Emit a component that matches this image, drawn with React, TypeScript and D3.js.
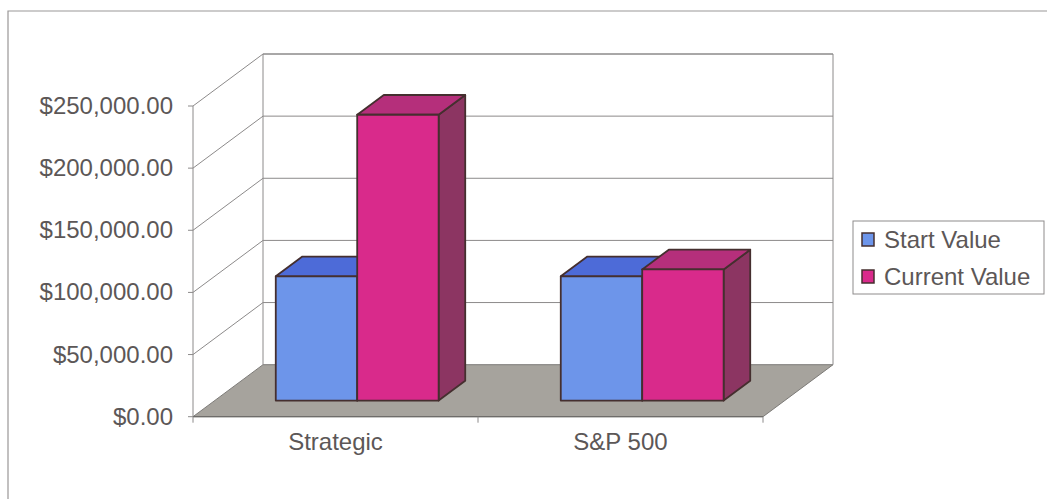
import * as d3 from "d3";
import React from "react";

// 数据
const categories = ["Strategic", "S&P 500"];
const seriesNames = ["Start Value", "Current Value"];
const startValues = [100000, 100000];
const currentValues = [230000, 105500];
const yTicks = [0, 50000, 100000, 150000, 200000, 250000];

const faceColors = [
  { front: "#6d95ea", top: "#4d6bd8", side: "#3f58b0" },
  { front: "#d92a8b", top: "#b52f7b", side: "#8c3562" },
];

export default function App() {
  const ref = React.useRef<SVGSVGElement>(null);

  React.useEffect(() => {
    if (!ref.current) return;
    const svg = d3.select(ref.current);
    svg.selectAll("*").remove();

    const W = 1047;
    const H = 499;
    const font = "'Liberation Sans', Arial, sans-serif";
    const fontSize = 24;
    const textColor = "#5c5757";
    const gridColor = "#8c8a8a";

    // 3D offsets
    const depthX = 70;
    const depthY = 52;
    const z0 = 0.31;
    const z1 = 0.69;

    const x0 = d3.scaleBand().domain(categories).range([193, 763]).padding(0);
    const x1 = d3
      .scaleBand()
      .domain(seriesNames)
      .range([0, x0.bandwidth()])
      .paddingInner(0)
      .paddingOuter(0.75);
    const y = d3.scaleLinear().domain([0, 250000]).range([416.7, 106]);

    const proj = (px: number, v: number, z: number): [number, number] => [
      px + z * depthX,
      y(v) - z * depthY,
    ];
    const poly = (pts: [number, number][]) =>
      pts.map((p) => p.join(",")).join(" ");

    // outer border (only top & left visible)
    svg
      .append("path")
      .attr("d", `M8,${H + 2} L8,11 L${W + 2},11`)
      .attr("fill", "none")
      .attr("stroke", "#9a9797")
      .attr("stroke-width", 1.2);

    const x0L = x0.range()[0];
    const x0R = x0.range()[1];
    const top = 250000;

    // floor
    svg
      .append("polygon")
      .attr(
        "points",
        poly([proj(x0L, 0, 0), proj(x0R, 0, 0), proj(x0R, 0, 1), proj(x0L, 0, 1)])
      )
      .attr("fill", "#a6a39d")
      .attr("stroke", "#7d7b78")
      .attr("stroke-width", 1);

    // walls outline
    const g = svg.append("g").attr("fill", "none").attr("stroke", gridColor).attr("stroke-width", 1);
    g.append("path").attr(
      "d",
      `M${proj(x0L, 0, 1).join(",")} L${proj(x0L, top, 1).join(",")} L${proj(x0R, top, 1).join(",")} L${proj(x0R, 0, 1).join(",")}`
    );

    // gridlines on side wall and back wall
    yTicks.forEach((v) => {
      if (v === 0) return;
      g.append("path").attr(
        "d",
        `M${proj(x0L, v, 0).join(",")} L${proj(x0L, v, 1).join(",")} L${proj(x0R, v, 1).join(",")}`
      );
    });

    // y axis line + ticks
    g.append("line")
      .attr("x1", x0L)
      .attr("x2", x0L)
      .attr("y1", y(0))
      .attr("y2", y(top));
    yTicks.forEach((v) => {
      g.append("line")
        .attr("x1", x0L - 5)
        .attr("x2", x0L)
        .attr("y1", y(v))
        .attr("y2", y(v));
    });

    // x axis line + ticks
    svg
      .append("line")
      .attr("x1", x0L)
      .attr("x2", x0R)
      .attr("y1", y(0))
      .attr("y2", y(0))
      .attr("stroke", "#6e6c6a")
      .attr("stroke-width", 1.2);
    const xTickPos = [x0L, ...categories.map((c) => (x0(c) || 0) + x0.bandwidth())];
    xTickPos.forEach((px) => {
      svg
        .append("line")
        .attr("x1", px)
        .attr("x2", px)
        .attr("y1", y(0))
        .attr("y2", y(0) + 6)
        .attr("stroke", gridColor);
    });

    // y labels
    const fmt = (v: number) => "$" + d3.format(",.2f")(v);
    svg
      .append("g")
      .selectAll("text")
      .data(yTicks)
      .enter()
      .append("text")
      .attr("x", 173)
      .attr("y", (d) => y(d) + 8)
      .attr("text-anchor", "end")
      .attr("font-family", font)
      .attr("font-size", fontSize)
      .attr("fill", textColor)
      .text((d) => fmt(d));

    // category labels
    svg
      .append("g")
      .selectAll("text")
      .data(categories)
      .enter()
      .append("text")
      .attr("x", (d) => (x0(d) || 0) + x0.bandwidth() / 2)
      .attr("y", 450)
      .attr("text-anchor", "middle")
      .attr("font-family", font)
      .attr("font-size", fontSize)
      .attr("fill", textColor)
      .text((d) => d);

    // bars
    const series = [startValues, currentValues];
    const edge = "#452f2f";
    categories.forEach((c, ci) => {
      series.forEach((vals, si) => {
        const v = vals[ci];
        const bx = (x0(c) || 0) + (x1(seriesNames[si]) || 0);
        const bw = x1.bandwidth();
        const col = faceColors[si];
        const bar = svg.append("g").attr("stroke", edge).attr("stroke-width", 1.8).attr("stroke-linejoin", "round");
        // side
        bar
          .append("polygon")
          .attr(
            "points",
            poly([proj(bx + bw, 0, z0), proj(bx + bw, 0, z1), proj(bx + bw, v, z1), proj(bx + bw, v, z0)])
          )
          .attr("fill", col.side);
        // top
        bar
          .append("polygon")
          .attr(
            "points",
            poly([proj(bx, v, z0), proj(bx + bw, v, z0), proj(bx + bw, v, z1), proj(bx, v, z1)])
          )
          .attr("fill", col.top);
        // front
        bar
          .append("polygon")
          .attr(
            "points",
            poly([proj(bx, 0, z0), proj(bx + bw, 0, z0), proj(bx + bw, v, z0), proj(bx, v, z0)])
          )
          .attr("fill", col.front);
      });
    });

    // legend
    const lg = svg.append("g");
    lg.append("rect")
      .attr("x", 853)
      .attr("y", 221)
      .attr("width", 191)
      .attr("height", 73)
      .attr("fill", "white")
      .attr("stroke", "#8e8b8b")
      .attr("stroke-width", 1);
    seriesNames.forEach((name, i) => {
      const ly = 248 + i * 37;
      lg.append("rect")
        .attr("x", 862)
        .attr("y", ly - 15)
        .attr("width", 12)
        .attr("height", 13)
        .attr("fill", faceColors[i].front)
        .attr("stroke", edge)
        .attr("stroke-width", 1.5);
      lg.append("text")
        .attr("x", 884)
        .attr("y", ly)
        .attr("font-family", font)
        .attr("font-size", fontSize)
        .attr("fill", textColor)
        .text(name);
    });

    return () => {
      svg.selectAll("*").remove();
    };
  }, []);

  return (
    <svg
      ref={ref}
      width={1047}
      height={499}
      style={{ position: "fixed", left: 0, top: 0, background: "white" }}
    />
  );
}
